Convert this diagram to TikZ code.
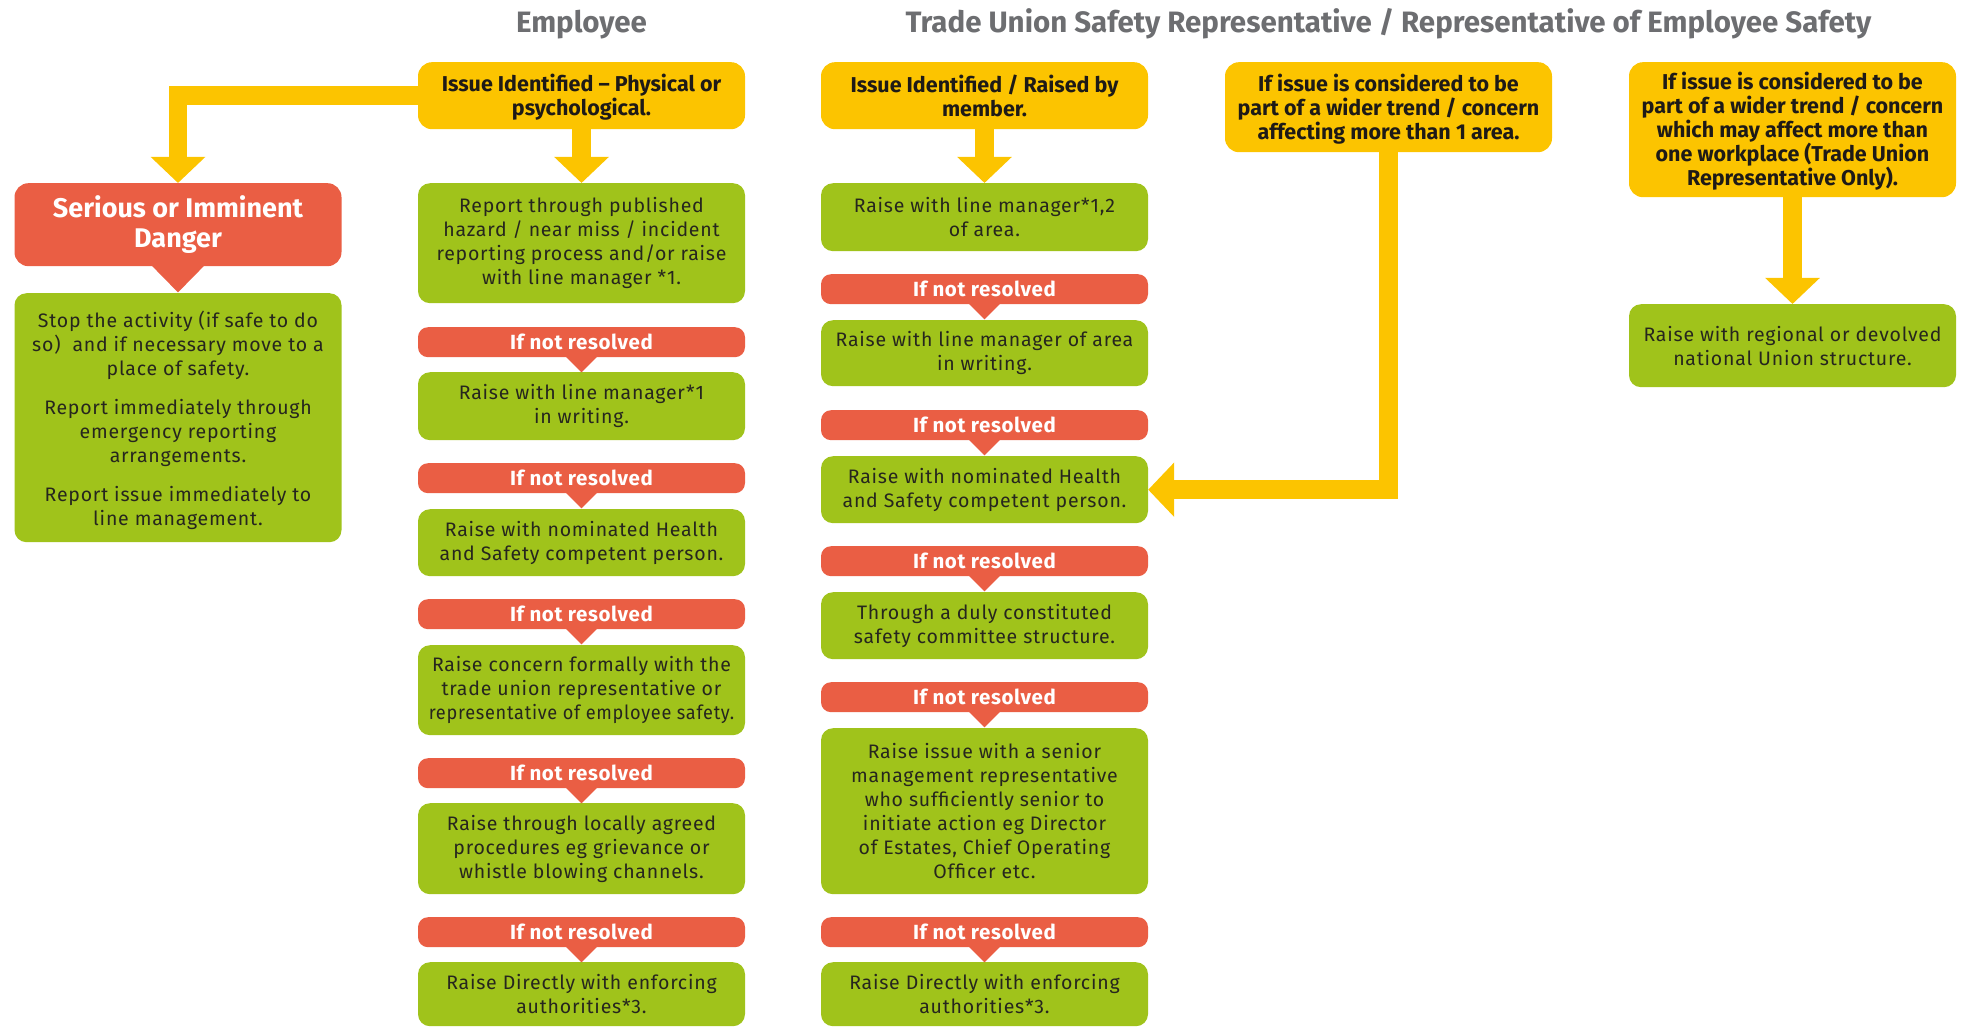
\documentclass[tikz,border=0pt]{standalone}
\usepackage{fontspec}
\setmainfont{Fira Sans}
\newfontfamily\bodyfont{Fira Sans}[LetterSpace=4]
\newfontfamily\barfont{Fira Sans}[LetterSpace=3]
\usetikzlibrary{arrows.meta,calc}
\definecolor{cy}{RGB}{252,196,0}
\definecolor{cr}{RGB}{234,94,68}
\definecolor{cg}{RGB}{160,195,27}
\definecolor{ctitle}{RGB}{109,110,113}
\definecolor{ctext}{RGB}{38,38,30}
\definecolor{cytext}{RGB}{30,26,23}
\newcommand{\tipdown}[3]{\fill[cr] ([xshift=-#2pt,yshift=1pt]#1.south) -- ([xshift=#2pt,yshift=1pt]#1.south) -- ([yshift=-#3pt]#1.south) -- cycle;}
\newcommand{\squeeze}[2]{\scalebox{#1}[1]{#2}}
\newcommand{\ys}{\rule{0pt}{21pt}}
\begin{document}
\begin{tikzpicture}[x=1pt,y=-1pt,
  box/.style={rectangle, minimum width=327pt, inner sep=0pt, align=center, anchor=north},
  gbox/.style={box, fill=cg, rounded corners=12pt, text=ctext, font=\bodyfont\fontsize{19.5}{24}\selectfont},
  rbar/.style={box, fill=cr, rounded corners=10pt, minimum height=30pt, text=white, font=\barfont\fontsize{20.5}{24}\selectfont\bfseries},
  ybox/.style={box, fill=cy, rounded corners=14pt, text=cytext, font=\fontsize{21.5}{24}\selectfont\bfseries},
  sbox/.style={box, fill=cr, rounded corners=14pt, text=white, font=\fontsize{27}{30}\selectfont\bfseries},
  title/.style={text=ctitle, font=\fontsize{29.5}{31}\selectfont\bfseries, anchor=base},
  yarrow/.style={draw=cy, line width=18.5pt, -{Triangle[width=53pt,length=26pt]}}
]
\useasboundingbox (0,0) rectangle (1966,1027);
% titles
\node[title] (t1) at (581.5,33) {Employee};
\node[title] (t2) at (1388.5,33) {Trade Union Safety Representative / Representative of Employee Safety};
% column A
\node[sbox, minimum height=83pt] (ser) at (178,183) {Serious or Imminent\\ Danger};
\node[gbox, minimum height=249pt] (ga) at (178,293) {\ys Stop the activity (if safe to do\\ so) \ and if necessary move to a\\ place of safety.\\[15pt] Report immediately through\\ emergency reporting\\ arrangements.\\[15pt] Report issue immediately to\\ line management.};
\tipdown{ser}{26.5}{26}
% column B
\node[ybox, minimum height=67pt] (yb) at (581.5,62) {\ys Issue Identified – Physical or\\ psychological.};
\node[gbox, minimum height=120pt] (b1) at (581.5,183) {Report through published\\ hazard / near miss / incident\\ reporting process and/or raise\\ with line manager *1.};
\node[rbar] (rb1) at (581.5,327) {If not resolved};
\node[gbox, minimum height=68pt] (b2) at (581.5,372) {Raise with line manager*1\\ in writing.};
\node[rbar] (rb2) at (581.5,463) {If not resolved};
\node[gbox, minimum height=67pt] (b3) at (581.5,509) {Raise with nominated Health\\ and Safety competent person.};
\node[rbar] (rb3) at (581.5,599) {If not resolved};
\node[gbox, minimum height=90pt] (b4) at (581.5,645) {Raise concern formally with the\\ trade union representative or\\ \squeeze{0.93}{representative of employee safety.}};
\node[rbar] (rb4) at (581.5,758) {If not resolved};
\node[gbox, minimum height=91pt] (b5) at (581.5,803) {Raise through locally agreed\\ procedures eg grievance or\\ whistle blowing channels.};
\node[rbar] (rb5) at (581.5,917) {If not resolved};
\node[gbox, minimum height=64pt] (b6) at (581.5,962) {Raise Directly with enforcing\\ authorities*3.};
\foreach \n in {rb1,rb2,rb3,rb4,rb5} {\tipdown{\n}{16}{15}}
% column C
\node[ybox, minimum height=67pt] (yc) at (984.5,62) {Issue Identified / Raised by\\ member.};
\node[gbox, minimum height=68pt] (c1) at (984.5,183) {Raise with line manager*1,2\\ of area.};
\node[rbar] (rc1) at (984.5,274) {If not resolved};
\node[gbox, minimum height=66pt] (c2) at (984.5,320) {Raise with line manager of area\\ in writing.};
\node[rbar] (rc2) at (984.5,410) {If not resolved};
\node[gbox, minimum height=67pt] (c3) at (984.5,456) {Raise with nominated Health\\ and Safety competent person.};
\node[rbar] (rc3) at (984.5,546) {If not resolved};
\node[gbox, minimum height=67pt] (c4) at (984.5,592) {Through a duly constituted\\ safety committee structure.};
\node[rbar] (rc4) at (984.5,682) {If not resolved};
\node[gbox, minimum height=166pt] (c5) at (984.5,728) {Raise issue with a senior\\ management representative\\ who sufficiently senior to\\ initiate action eg Director\\ of Estates, Chief Operating\\ Officer etc.};
\node[rbar] (rc5) at (984.5,917) {If not resolved};
\node[gbox, minimum height=64pt] (c6) at (984.5,962) {Raise Directly with enforcing\\ authorities*3.};
\foreach \n in {rc1,rc2,rc3,rc4,rc5} {\tipdown{\n}{16}{15}}
% column D
\node[ybox, minimum height=90pt] (yd) at (1388.5,62) {\ys If issue is considered to be\\ part of a wider trend / concern\\ affecting more than 1 area.};
% column E
\node[ybox, minimum height=135pt] (ye) at (1792.5,62) {\ys If issue is considered to be\\ part of a wider trend / concern\\ which may affect more than\\ one workplace (Trade Union\\ Representative Only).};
\node[gbox, minimum height=83pt] (ge) at (1792.5,304) {Raise with regional or devolved\\ national Union structure.};
% arrows
\draw[yarrow] (yb.west) -| (ser.north);
\draw[yarrow] (yb.south) -- (b1.north);
\draw[yarrow] (yc.south) -- (c1.north);
\draw[yarrow] (yd.south) |- (c3.east);
\draw[yarrow] (ye.south) -- (ge.north);
\end{tikzpicture}
\end{document}
